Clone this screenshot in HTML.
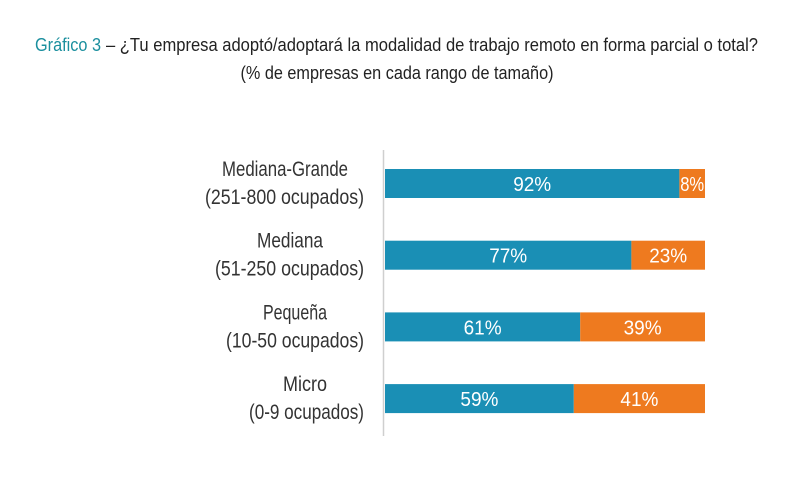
<!DOCTYPE html>
<html><head><meta charset="utf-8"><style>body{margin:0;background:#fff}svg{display:block}text{font-family:"Liberation Sans",sans-serif}</style></head>
<body>
<svg width="800" height="495">
<text x="35" y="51" font-size="18" fill="#1b8f9e" textLength="66" lengthAdjust="spacingAndGlyphs">Gráfico 3</text>
<text x="106" y="51" font-size="18" fill="#222" textLength="652" lengthAdjust="spacingAndGlyphs">–  ¿Tu empresa adoptó/adoptará la modalidad de trabajo remoto en forma parcial o total?</text>
<text x="397" y="79" font-size="18" fill="#222" text-anchor="middle" textLength="313" lengthAdjust="spacingAndGlyphs">(% de empresas en cada rango de tamaño)</text>
<line x1="383.5" y1="150" x2="383.5" y2="436" stroke="#cfcfcf" stroke-width="1.5"/>
<g id="bars"></g>
</svg>
<script>
const cats1=["Mediana-Grande","Mediana","Pequeña","Micro"];
const cats2=["(251-800 ocupados)","(51-250 ocupados)","(10-50 ocupados)","(0-9 ocupados)"];
const yes=[92,77,61,59];
const no=[8,23,39,41];
const x0=385,W=320;
function xs(v){return x0+v/100*W;}
function yb(i){return 169+i*71.7;}
const g=document.getElementById('bars');const NS='http://www.w3.org/2000/svg';
function mk(t,a){const e=document.createElementNS(NS,t);for(const k in a)e.setAttribute(k,a[k]);g.appendChild(e);return e;}
const lw1=[126,66,64,44],le1=[348,323,327,327],lw2=[159,149,138,115];
cats1.forEach((c,i)=>{
 const y=yb(i),h=29;
 const r1=mk('rect',{x:x0,y:y,width:xs(yes[i])-x0,height:h,fill:'#1a8fb5'});
 
 
 const r2=mk('rect',{x:xs(yes[i]),y:y,width:xs(yes[i]+no[i])-xs(yes[i]),height:h,fill:'#ee7a1f'});
 
 
 const t1=mk('text',{x:(x0+xs(yes[i]))/2,y:y+22,'font-size':20,fill:'#fff','text-anchor':'middle',textLength:38,lengthAdjust:'spacingAndGlyphs'});
 t1.textContent=yes[i]+'%';
 
 
 const t2=mk('text',{x:(xs(yes[i])+xs(yes[i]+no[i]))/2,y:y+22,'font-size':20,fill:'#fff','text-anchor':'middle',textLength:no[i]<10?24:38,lengthAdjust:'spacingAndGlyphs'});
 t2.textContent=no[i]+'%';
 
 
 const l1=mk('text',{x:le1[i],y:y+7,'font-size':21,fill:'#333','text-anchor':'end',textLength:lw1[i],lengthAdjust:'spacingAndGlyphs'});
 l1.textContent=c;
 
 
 const l2=mk('text',{x:364,y:y+35,'font-size':21,fill:'#333','text-anchor':'end',textLength:lw2[i],lengthAdjust:'spacingAndGlyphs'});
 l2.textContent=cats2[i];
 
 
});
</script>
</body></html>
